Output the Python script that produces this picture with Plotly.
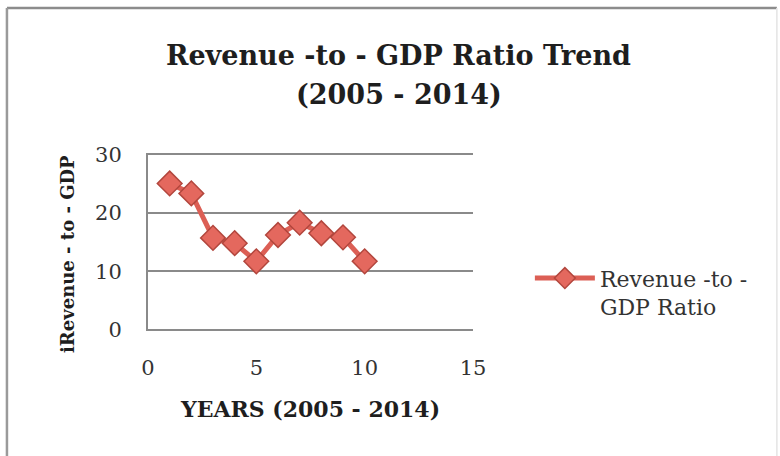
import plotly.graph_objects as go

years = [1, 2, 3, 4, 5, 6, 7, 8, 9, 10]
ratio = [25.0, 23.3, 15.7, 14.8, 11.7, 16.2, 18.3, 16.5, 15.8, 11.7]

x_ticks = [0, 5, 10, 15]
y_ticks = [0, 10, 20, 30]

title_lines = ["Revenue -to - GDP Ratio Trend", "(2005 - 2014)"]
y_title = "iRevenue - to - GDP"

serif = "DejaVu Serif"
line_red = "#dc5f55"
edge_red = "#b2463d"
grid_gray = "#8a8a8a"

fig = go.Figure()
fig.add_trace(go.Scatter(
    x=years, y=ratio, mode="lines+markers",
    name="Revenue -to -<br>GDP Ratio",
    line=dict(color=line_red, width=5),
    marker=dict(symbol="diamond", size=19, color="#e4685e",
                line=dict(color=edge_red, width=1.5)),
))

# two-line chart title, centred over the whole chart frame
for i, txt in enumerate(title_lines):
    fig.add_annotation(text="<b>%s</b>" % txt, xref="paper", yref="paper",
                       x=0.772, y=1.545 - i * 0.214, xanchor="center",
                       yanchor="middle", showarrow=False,
                       font=dict(family=serif, size=27, color="#1e1e1e"))

# rotated value-axis title
fig.add_annotation(text="<b>%s</b>" % y_title, xref="paper", yref="paper",
                   x=-0.246, y=0.433, xanchor="center", yanchor="middle",
                   textangle=-90, showarrow=False,
                   font=dict(family=serif, size=18, color="#1e1e1e"))

fig.update_layout(
    width=780, height=456,
    margin=dict(l=148, r=307, t=153, b=125),
    paper_bgcolor="white", plot_bgcolor="white",
    font=dict(family=serif, color="#333333"),
    xaxis=dict(range=[0, 15], tickvals=x_ticks, showgrid=False,
               zeroline=False, showline=False, ticks="",
               tickfont=dict(size=21, family=serif, color="#333333"),
               ticklabelstandoff=22,
               title=dict(text="<b>YEARS (2005 - 2014)</b>",
                          font=dict(size=22, family=serif, color="#1e1e1e"),
                          standoff=22)),
    yaxis=dict(range=[-0.2, 30.2], tickvals=y_ticks, showgrid=True,
               gridcolor=grid_gray, gridwidth=2, zeroline=False,
               showline=True, linecolor=grid_gray, linewidth=2, ticks="",
               tickfont=dict(size=21, family=serif, color="#333333"),
               ticklabelstandoff=20),
    showlegend=True,
    legend=dict(x=1.175, xanchor="left", y=0.215, yanchor="middle",
                valign="top", itemwidth=60,
                font=dict(size=22, family=serif, color="#333333"),
                bgcolor="rgba(0,0,0,0)"),
    shapes=[
        # chart frame: darker top and left edges, faint right edge
        dict(type="line", xref="paper", yref="paper",
             x0=-0.434, x1=1.935, y0=1.815, y1=1.815,
             line=dict(color="#8c8c8c", width=2.5)),
        dict(type="line", xref="paper", yref="paper",
             x0=-0.434, x1=-0.434, y0=-0.75, y1=1.815,
             line=dict(color="#9a9a9a", width=2.5)),
        dict(type="line", xref="paper", yref="paper",
             x0=1.935, x1=1.935, y0=-0.75, y1=1.815,
             line=dict(color="#e4e4e4", width=1.5)),
    ],
)

fig.write_html("out.html")
